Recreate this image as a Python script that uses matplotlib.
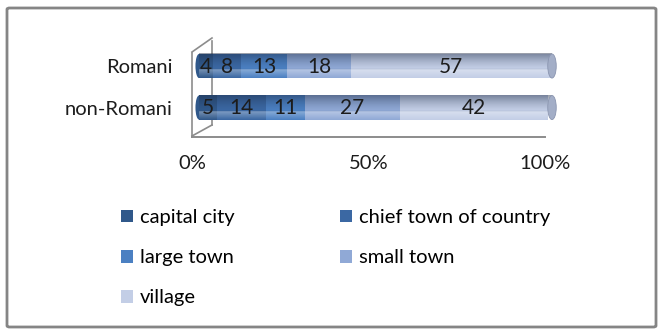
import numpy as np
import matplotlib.pyplot as plt
from matplotlib import transforms
from matplotlib.lines import Line2D
from matplotlib.patches import Ellipse, FancyBboxPatch

plt.rcParams['font.family'] = ['Lato', 'DejaVu Sans']

groups = ["non-Romani", "Romani"]
places = ["capital city", "chief town of country", "large town", "small town", "village"]
shares = {
    "non-Romani": [5, 14, 11, 27, 42],
    "Romani": [4, 8, 13, 18, 57],
}
colors = ["#30588a", "#3b68a3", "#4b80c2", "#90a9d6", "#c3cee6"]
ticks = [0, 50, 100]
tick_labels = ["0%", "50%", "100%"]

W, H = 667, 335
fig = plt.figure(figsize=(W / 100, H / 100), dpi=100)

# outer frame
fig.add_artist(FancyBboxPatch((7 / W, 8 / H), 649 / W, 319 / H,
                              boxstyle="round,pad=0,rounding_size=0.004",
                              transform=fig.transFigure, fill=False,
                              edgecolor="#858585", linewidth=2))

ax = fig.add_axes([192 / W, 1 - 137 / H, 353 / W, 99 / H])

# bars sit on the back plane, shifted a little to the right
shift = transforms.offset_copy(ax.transData, fig, x=7, y=0, units="dots")
bar_h = 0.58
ypos = np.arange(len(groups))

handles = []
for j, place in enumerate(places):
    vals = np.array([shares[g][j] for g in groups])
    left = np.array([sum(shares[g][:j]) for g in groups])
    bars = ax.barh(ypos, vals, left=left, height=bar_h, color=colors[j],
                   edgecolor="none", transform=shift, label=place, zorder=2,
                   clip_on=False)
    handles.append(bars)
    for y, v, l in zip(ypos, vals, left):
        ax.text(l + v / 2, y - 0.02, str(v), transform=shift, ha="center",
                va="center", fontsize=15, color="#1c1c1c", zorder=5)

# cylinder shading over each bar
rows = np.linspace(0, 1, 64)
shade = np.zeros((64, 1, 4))
for i, t in enumerate(rows):
    if t < 0.35:
        shade[i, 0] = [1, 1, 1, 0.35 * (t / 0.35)]
    else:
        shade[i, 0] = [0.1, 0.15, 0.25, 0.45 * ((t - 0.35) / 0.65) ** 1.4]
for y in ypos:
    ax.imshow(shade, extent=[0, 100, y + bar_h / 2, y - bar_h / 2],
              aspect="auto", transform=shift, zorder=3, interpolation="bilinear",
              clip_on=False)
    ax.add_patch(Ellipse((100, y), 2.4, bar_h, transform=shift,
                         facecolor="#a3aec7", edgecolor="#8a95b0", linewidth=0.6,
                         zorder=4, clip_on=False))
    ax.add_patch(Ellipse((0, y), 2.0, bar_h, transform=shift,
                         facecolor=colors[0], edgecolor="none", zorder=1.9,
                         clip_on=False))
ax.set_xlim(0, 100)
ax.set_ylim(-0.71, 1.675)

# back wall lines
depth = transforms.offset_copy(ax.transAxes, fig, x=20, y=12, units="dots")
ax.add_line(Line2D([0, 0], [0, 0.85], transform=ax.transAxes, color="#8c8c8c",
                   linewidth=1.2, clip_on=False, zorder=1))
ax.add_line(Line2D([0, 0], [0, 0.85], transform=depth, color="#8c8c8c",
                   linewidth=1.2, clip_on=False, zorder=1))
fig.add_artist(Line2D([192 / W, 212 / W], [1 - 136 / H, 1 - 125 / H],
                      transform=fig.transFigure, color="#8c8c8c", linewidth=1.2))
fig.add_artist(Line2D([192 / W, 212 / W], [1 - 52 / H, 1 - 38 / H],
                      transform=fig.transFigure, color="#8c8c8c", linewidth=1.2))

for s in ["top", "right", "left"]:
    ax.spines[s].set_visible(False)
ax.spines["bottom"].set_color("#8c8c8c")
ax.spines["bottom"].set_linewidth(1.4)
ax.set_xticks(ticks)
ax.set_xticklabels(tick_labels, fontsize=14.5, color="#1c1c1c")
ax.set_yticks(ypos)
ax.set_yticklabels(groups, fontsize=14.5, color="#1c1c1c")
ax.tick_params(axis="x", length=0, pad=13)
ax.tick_params(axis="y", length=0, pad=14)
ax.patch.set_visible(False)

# legend laid out row by row
order = [0, 2, 4, 1, 3]
fig.legend([handles[i] for i in order], [places[i] for i in order],
           ncol=2, loc="upper left", bbox_to_anchor=(103 / W, 1 - 191 / H),
           frameon=False, fontsize=14.5, handlelength=0.6, handleheight=0.6,
           handletextpad=0.35, labelspacing=1.15, columnspacing=5.2)

fig.savefig("out.png", dpi=100)
